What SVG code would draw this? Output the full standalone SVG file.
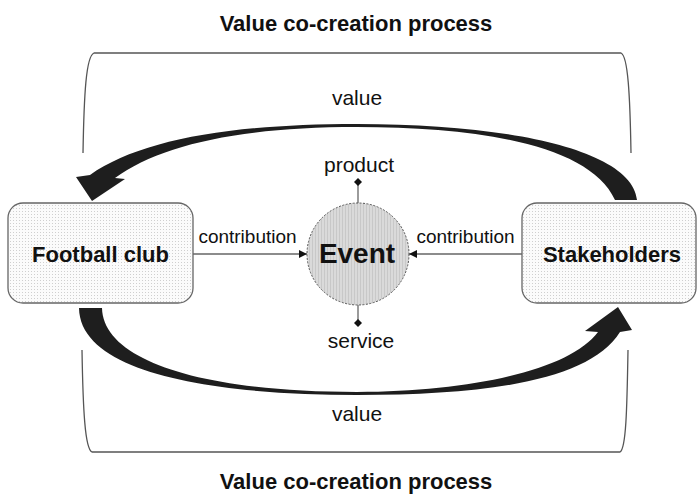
<svg xmlns="http://www.w3.org/2000/svg" width="697" height="494" viewBox="0 0 697 494">
<style>
.title{font-family:"Liberation Sans",Arial,sans-serif;font-weight:bold;font-size:22px;fill:#111;text-anchor:middle}
.node{font-family:"Liberation Sans",Arial,sans-serif;font-weight:bold;font-size:22px;fill:#111;text-anchor:middle}
.lbl{font-family:"Liberation Sans",Arial,sans-serif;font-size:21px;fill:#111;text-anchor:middle}
.clbl{font-family:"Liberation Sans",Arial,sans-serif;font-size:19px;fill:#111;text-anchor:middle}
.box{fill:url(#dots);stroke:#666;stroke-width:1.3}
.bracket{fill:none;stroke:#555;stroke-width:1.3}
.big{fill:#1e1e1e}
.thin{stroke:#666;stroke-width:1.3;fill:none}
</style>
<defs>
<pattern id="dots" width="3" height="3" patternUnits="userSpaceOnUse">
<rect width="3" height="3" fill="#fbfbfb"/>
<rect x="1" y="1" width="1" height="1" fill="#cfcfcf"/>
</pattern>
<pattern id="stripes" width="3" height="3" patternUnits="userSpaceOnUse">
<rect width="3" height="3" fill="#dadada"/>
<rect x="0" y="0" width="1" height="3" fill="#c8c8c8"/>
</pattern>
<marker id="arr" viewBox="0 0 10 10" refX="10" refY="5" markerWidth="8" markerHeight="8" markerUnits="userSpaceOnUse" orient="auto">
<path d="M0,0 L10,5 L0,10 Z" fill="#111"/>
</marker>
</defs>
<rect width="697" height="494" fill="#fff"/>

<text class="title" x="356" y="31">Value co-creation process</text>
<text class="title" x="356" y="489">Value co-creation process</text>

<g id="brackets">
<path class="bracket" d="M83,153 C84,95 86,56 94,53 L621,53 C628,56 630,95 631,153"/>
<path class="bracket" d="M82,350 C83,410 85,449 92,452 L620,452 C626,449 627,410 628,350"/>
</g>

<g id="connectors">
<path class="big" d="M637,200 C632,150 510,124 357,124 C230,124 140,140 90,175 L76,177 L92,201 L125,179 L115,178 C160,145 240,127 357,127 C480,127 590,145 615,200 Z"/>
<path class="big" d="M79,308 C80,375 220,395 357,395 C490,395 590,380 620,332 L632,330 L618,307 L585,331 L598,332 C570,370 470,392 357,392 C200,392 103,360 102,308 Z"/>
<line class="thin" x1="193" y1="254" x2="307" y2="254" marker-end="url(#arr)"/>
<line class="thin" x1="522" y1="254" x2="409" y2="254" marker-end="url(#arr)"/>
<line class="thin" x1="358" y1="203" x2="358" y2="183"/>
<path d="M358,178 L362,182 L358,186 L354,182 Z" fill="#111"/>
<line class="thin" x1="358" y1="305" x2="358" y2="323"/>
<path d="M358,319 L362,323 L358,327 L354,323 Z" fill="#111"/>
<text class="lbl" x="357" y="105">value</text>
<text class="lbl" x="357" y="421">value</text>
<text class="clbl" x="247.5" y="243">contribution</text>
<text class="clbl" x="465.5" y="243">contribution</text>
<text class="lbl" x="359" y="172">product</text>
<text class="lbl" x="361" y="348">service</text>
</g>

<g id="football-club">
<rect class="box" x="8" y="203" width="185" height="100" rx="15" ry="15"/>
<text class="node" x="100.5" y="262">Football club</text>
</g>

<g id="stakeholders">
<rect class="box" x="522" y="203" width="174" height="100" rx="15" ry="15"/>
<text class="node" x="612" y="262">Stakeholders</text>
</g>

<g id="event">
<circle cx="358" cy="254" r="51" fill="url(#stripes)" stroke="#555" stroke-width="1" stroke-dasharray="2,1.5"/>
<text class="node" x="357" y="263" style="font-size:28px">Event</text>
</g>
</svg>
